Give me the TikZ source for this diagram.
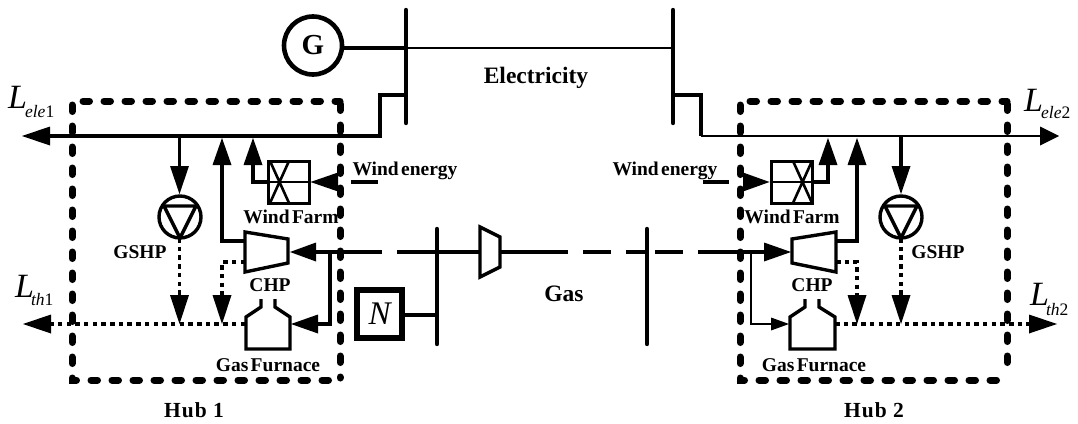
\documentclass[tikz,border=0pt]{standalone}
\usepackage{fontspec}
\setmainfont{Liberation Serif}
\usetikzlibrary{arrows.meta}
\tikzset{
  x=1pt,y=-1pt,
  lab/.style={font=\bfseries\fontsize{19.5}{21}\selectfont,inner sep=0pt},
  biglab/.style={font=\bfseries\fontsize{23.5}{25}\selectfont,inner sep=0pt},
  hublab/.style={font=\bfseries\fontsize{21.5}{23}\selectfont\addfontfeature{LetterSpace=5},inner sep=0pt},
  loadlab/.style={anchor=base west,inner sep=0pt,font=\itshape\fontsize{34}{36}\selectfont},
  busbar/.style={line width=4.4pt,line cap=round},
  wire/.style={line width=3.2pt},
  midwire/.style={line width=2.6pt},
  gasline/.style={line width=3.6pt},
  thinline/.style={line width=1.9pt},
  hubline/.style={line width=7pt,line cap=round,dash pattern=on 6.5pt off 14.5pt},
  dotline/.style={line width=3.2pt,dash pattern=on 4.5pt off 4.2pt},
  device/.style={line width=3.4pt,miter limit=10},
  pump/.style={circle,draw,line width=3.4pt,minimum size=42pt,inner sep=0pt},
  windbox/.style={draw,line width=3pt,minimum width=41pt,minimum height=42pt,inner sep=0pt},
}
\newcommand{\headL}[2]{\fill (#1) -- ++(0,9.5) -- ++(#2,-9.5) -- ++(-#2,-9.5) -- cycle;}
\newcommand{\headV}[2]{\fill (#1) -- ++(9.5,0) -- ++(-9.5,#2) -- ++(-9.5,-#2) -- cycle;}
\newcommand{\subs}[2]{\raisebox{#1}{\fontsize{17.5}{19}\selectfont #2}}
\begin{document}
\begin{tikzpicture}
\useasboundingbox (0,0) rectangle (1078,423);
% hub frames
\draw[hubline] (83,101) -- (340,101);
\draw[hubline] (340,104) -- (340,378);
\draw[hubline] (72,105) -- (72,380) -- (338,380);
\draw[hubline] (750,101) -- (1007,101);
\draw[hubline] (1007,104) -- (1007,376);
\draw[hubline] (740,105) -- (740,380) -- (1004,380);

% buses
\coordinate (b1t) at (406,10); \coordinate (b1b) at (406,123);
\coordinate (b2t) at (673,10); \coordinate (b2b) at (673,123);
\coordinate (g1t) at (437,229); \coordinate (g1b) at (437,344);
\coordinate (g2t) at (647,229); \coordinate (g2b) at (647,344);
\draw[busbar] (b1t) -- (b1b);
\draw[busbar] (b2t) -- (b2b);
\draw[busbar] (g1t) -- (g1b);
\draw[busbar] (g2t) -- (g2b);

% generator
\node[circle,draw,line width=4.6pt,minimum size=58pt,inner sep=0pt,font=\bfseries\fontsize{29}{31}\selectfont] (gen) at (313,45.5) {G};
\coordinate (j1) at (406,48); \coordinate (j2) at (673,48);
\draw[wire] (gen.east |- j1) -- (j1);
\draw[thinline] (j1) -- (j2);

% electricity feeders
\coordinate (f1) at (406,95); \coordinate (f1c) at (380,136); \coordinate (eL) at (50,136);
\draw[wire] (f1) -| (f1c) -- (eL);
\headL{50,136}{-28}
\coordinate (f2) at (673,95); \coordinate (f2c) at (701,136); \coordinate (eR) at (1040,136);
\draw[wire] (f2) -| (f2c);
\draw[thinline] (f2c) -- (eR);
\headL{1040,136}{19}

% GSHP
\node[pump] (p1) at (180,217) {};
\node[pump] (p2) at (901,217) {};
\draw[device,line join=round] (164,206) -- (196,206) -- (180,238) -- cycle;
\draw[device,line join=round] (885,206) -- (917,206) -- (901,238) -- cycle;
\coordinate (p1e) at (179.5,136); \coordinate (p2e) at (901,136);
\draw[wire] (p1e) -- (179.5,167);
\headV{179.5,166}{28}
\draw[wire] (p2e) -- (901,167);
\headV{901,166}{28}

% wind farms
\node[windbox] (w1) at (288.5,182) {};
\node[windbox] (w2) at (791.5,182) {};
\draw[midwire] (w1.west) -- (w1.east);
\draw[midwire] (w2.west) -- (w2.east);
\draw[midwire] (270,161) -- (289,203) (289,161) -- (270,203);
\draw[midwire] (793,161) -- (812,203) (812,161) -- (793,203);
\draw[wire] (w1.west) -- (253,182) -- (253,164);
\headV{253,165}{-27}
\draw[wire] (w2.east) -- (828,182) -- (828,164);
\headV{828,165}{-27}
% wind energy arrows
\fill (338,172.5) -- (338,191.5) -- (w1.east) -- cycle;
\fill (743,172.5) -- (743,191.5) -- (w2.west) -- cycle;
\coordinate (we1a) at (351,182); \coordinate (we1b) at (378,182);
\coordinate (we2a) at (703,182); \coordinate (we2b) at (729,182);
\draw[wire] (we1a) -- (we1b);
\draw[wire] (we2a) -- (we2b);

% CHP units
\draw[device] (245,232) -- (288,239) -- (288,263) -- (245,272) -- cycle;
\draw[device] (792,239) -- (836,232) -- (836,272) -- (792,263) -- cycle;
% gas furnaces
\draw[device] (261,299) -- (261,307) -- (246,317) -- (246,349) -- (290,349) -- (290,317) -- (275,307) -- (275,299);
\draw[device] (805,299) -- (805,307) -- (790,317) -- (790,349) -- (835,349) -- (835,317) -- (819,307) -- (819,299);

% CHP electricity
\draw[wire] (245,241) -| (222,164);
\headV{222,165}{-27}
\draw[wire] (836,241) -| (857,164);
\headV{857,165}{-27}

% thermal lines
\draw[dotline] (245,324) -- (50,324);
\headL{51,324}{-28}
\draw[dotline] (835,324) -- (1030,324);
\headL{1029,324}{28}
\draw[dotline] (179.5,238) -- (179.5,295);
\headV{179.5,295}{29}
\draw[dotline] (901,238) -- (901,295);
\headV{901,295}{29}
\draw[dotline] (245,262) -| (222,295);
\headV{222,295}{29}
\draw[dotline] (836,262) -| (857,295);
\headV{857,295}{29}

% gas network
\draw[gasline] (437,252) -- (397,252);
\draw[gasline] (382,252) -- (316,252);
\headL{316,252}{-26}
\draw[gasline] (330,252) -- (330,324) -- (317,324);
\headL{318,324}{-27}
\draw[wire] (437,252) -- (480,252);
\draw[device] (480,227) -- (500,237) -- (500,267) -- (480,277) -- cycle;
\draw[wire] (500,252) -- (568,252);
\draw[gasline] (583,252) -- (611,252);
\draw[gasline] (626,252) -- (647,252);
\draw[gasline] (655,252) -- (683,252);
\draw[gasline] (698,252) -- (765,252);
\fill (764,242.5) -- (764,261.5) -- (791,252) -- cycle;
\draw[thinline] (751,252) -- (751,324) -- (772,324);
\fill (771,317.5) -- (771,330.5) -- (789,324) -- cycle;

% line pack
\node[draw,line width=5.2pt,minimum width=45pt,minimum height=48pt,inner sep=0pt,font=\itshape\fontsize{33}{35}\selectfont] (lp) at (379.5,314) {N};
\coordinate (g1n) at (437,315);
\draw[wire] (lp.east |- g1n) -- (g1n);

% labels
\node[biglab] (telec) at (536,78) {Electricity};
\node[biglab] (tgas) at (564,294) {Gas};
\node[lab] (twe1) at (405,171) {Wind\hspace{.12em}energy};
\node[lab] (twe2) at (665,171) {Wind\hspace{.12em}energy};
\node[lab] (twf1) at (291,217) {Wind\hspace{.12em}Farm};
\node[lab] (twf2) at (792,217) {Wind\hspace{.12em}Farm};
\node[lab] (tgs1) at (140,252) {GSHP};
\node[lab] (tgs2) at (938,252) {GSHP};
\node[lab] (tch1) at (270,285) {CHP};
\node[lab] (tch2) at (812,285) {CHP};
\node[lab] (tgf1) at (268,365) {Gas\hspace{.12em}Furnace};
\node[lab] (tgf2) at (814,365) {Gas\hspace{.12em}Furnace};
\node[hublab] (th1) at (194,410) {Hub 1};
\node[hublab] (th2) at (874,410) {Hub 2};
\node[loadlab] (ll1) at (8,108) {L\hspace{-2pt}\subs{-9pt}{ele\upshape 1}};
\node[loadlab] (ll2) at (1024,111) {L\hspace{-2pt}\subs{-7pt}{ele\upshape 2}};
\node[loadlab] (lt1) at (15,297) {L\hspace{-3pt}\subs{-8pt}{th\upshape 1}};
\node[loadlab] (lt2) at (1030,305) {L\hspace{-3pt}\subs{-10pt}{th\upshape 2}};
\end{tikzpicture}
\end{document}
